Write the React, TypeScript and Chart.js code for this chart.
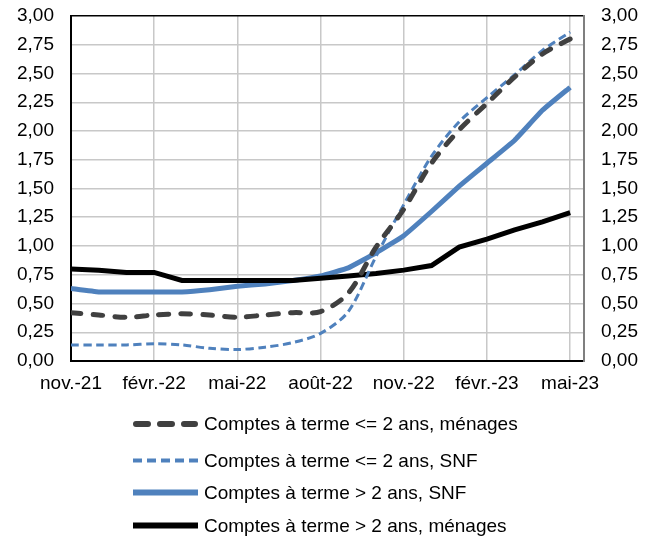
import React, { useEffect, useRef } from 'react';
import { Chart, registerables } from 'chart.js';
Chart.register(...registerables);

const months = ['nov.-21', 'déc.-21', 'janv.-22', 'févr.-22', 'mars-22', 'avr.-22', 'mai-22', 'juin-22', 'juil.-22', 'août-22', 'sept.-22', 'oct.-22', 'nov.-22', 'déc.-22', 'janv.-23', 'févr.-23', 'mars-23', 'avr.-23', 'mai-23'];

const menagesCourt = [0.42, 0.40, 0.38, 0.40, 0.41, 0.40, 0.38, 0.40, 0.42, 0.43, 0.59, 0.99, 1.32, 1.72, 2.01, 2.24, 2.47, 2.67, 2.80];
const snfCourt = [0.14, 0.14, 0.14, 0.15, 0.14, 0.11, 0.10, 0.12, 0.16, 0.24, 0.43, 0.91, 1.36, 1.78, 2.08, 2.29, 2.49, 2.70, 2.86];
const snfLong = [0.63, 0.60, 0.60, 0.60, 0.60, 0.62, 0.65, 0.67, 0.70, 0.74, 0.81, 0.94, 1.09, 1.30, 1.52, 1.72, 1.92, 2.18, 2.38];
const menagesLong = [0.80, 0.79, 0.77, 0.77, 0.70, 0.70, 0.70, 0.70, 0.70, 0.72, 0.74, 0.76, 0.79, 0.83, 0.99, 1.06, 1.14, 1.21, 1.29];

const seriesLabels = [
  'Comptes à terme <= 2 ans, ménages',
  'Comptes à terme <= 2 ans, SNF',
  'Comptes à terme > 2 ans, SNF',
  'Comptes à terme > 2 ans, ménages',
];

const FONT = '"Liberation Sans", Arial, sans-serif';
const FS = 19;
const BLUE = '#4F81BD';

const toPts = (arr: number[]) => arr.map((v, i) => ({ x: i, y: v }));

const legendPlugin = {
  id: 'customLegend',
  afterDraw(chart: any) {
    const ctx = chart.ctx;
    const rows = [424, 460.5, 492.5, 525.5];
    const legendDash = [[12, 12], [9, 5], [], []];
    const legendCap = ['round', 'butt', 'butt', 'butt'];
    chart.data.datasets.forEach((ds: any, i: number) => {
      const y = rows[i];
      ctx.save();
      ctx.strokeStyle = ds.borderColor;
      ctx.lineWidth = ds.borderWidth + 1;
      ctx.lineCap = legendCap[i];
      ctx.setLineDash(legendDash[i]);
      ctx.beginPath();
      const x0 = legendCap[i] === 'round' ? 136 : 133;
      const x1 = legendCap[i] === 'round' ? 195 : 198;
      ctx.moveTo(x0, y);
      ctx.lineTo(x1, y);
      ctx.stroke();
      ctx.setLineDash([]);
      ctx.fillStyle = '#000';
      ctx.font = `${FS}px ${FONT}`;
      ctx.textBaseline = 'middle';
      ctx.textAlign = 'left';
      ctx.fillText(ds.label, 204, y + 1);
      ctx.restore();
    });
  },
};

export default function App() {
  const ref = useRef<HTMLCanvasElement>(null);
  useEffect(() => {
    if (!ref.current) return;
    const tickFont = { family: FONT, size: FS };
    const chart = new Chart(ref.current, {
      type: 'line',
      data: {
        datasets: [
          {
            label: seriesLabels[0],
            data: toPts(menagesCourt),
            borderColor: '#404040',
            borderWidth: 5,
            borderDash: [10, 12],
            borderCapStyle: 'round',
            tension: 0.3,
            pointRadius: 0,
            order: 0,
          },
          {
            label: seriesLabels[1],
            data: toPts(snfCourt),
            borderColor: BLUE,
            borderWidth: 3,
            borderDash: [8, 4.5],
            tension: 0.3,
            pointRadius: 0,
            order: 1,
          },
          {
            label: seriesLabels[2],
            data: toPts(snfLong),
            borderColor: BLUE,
            borderWidth: 5,
            tension: 0.1,
            pointRadius: 0,
            order: 3,
          },
          {
            label: seriesLabels[3],
            data: toPts(menagesLong),
            borderColor: '#000000',
            borderWidth: 5,
            tension: 0,
            pointRadius: 0,
            order: 2,
          },
        ],
      },
      options: {
        animation: false,
        responsive: false,
        layout: { padding: { top: 16, bottom: 135, left: 0, right: 0 } },
        plugins: { legend: { display: false }, tooltip: { enabled: false } },
        scales: {
          x: {
            type: 'linear',
            min: 0,
            max: 18.5,
            afterBuildTicks: (scale: any) => {
              scale.ticks = months
                .map((_, i) => i)
                .filter((i) => i % 3 === 0)
                .map((v) => ({ value: v }));
            },
            afterFit: (scale: any) => {
              scale.height = 45;
              scale.paddingLeft = 0;
              scale.paddingRight = 0;
            },
            ticks: {
              callback: (v: any) => months[Number(v)] ?? '',
              color: '#000',
              font: tickFont,
              padding: 11,
              maxRotation: 0,
              autoSkip: false,
            },
            grid: { color: '#c8c8c8', lineWidth: 1.5, drawTicks: false },
            border: { color: '#000', width: 2 },
          },
          y: {
            position: 'left',
            min: 0,
            max: 3,
            ticks: {
              stepSize: 0.25,
              callback: (v: any) => Number(v).toFixed(2).replace('.', ','),
              color: '#000',
              font: tickFont,
              padding: 17,
            },
            afterFit: (scale: any) => {
              scale.width = 71;
              scale.paddingTop = 0;
              scale.paddingBottom = 0;
            },
            grid: {
              color: (c: any) => (c.tick && c.tick.value === 3 ? '#000' : '#c8c8c8'),
              lineWidth: 1.5,
              drawTicks: false,
            },
            border: { color: '#000', width: 2 },
          },
          y2: {
            position: 'right',
            min: 0,
            max: 3,
            ticks: {
              stepSize: 0.25,
              callback: (v: any) => Number(v).toFixed(2).replace('.', ','),
              color: '#000',
              font: tickFont,
              padding: 17,
            },
            afterFit: (scale: any) => {
              scale.width = 69;
              scale.paddingTop = 0;
              scale.paddingBottom = 0;
            },
            grid: { display: false, drawTicks: false },
            border: { color: '#7f7f7f', width: 2 },
          },
        },
      } as any,
      plugins: [legendPlugin],
    });
    return () => chart.destroy();
  }, []);
  return (
    <div style={{ position: 'absolute', left: 0, top: 0, width: 653, height: 541, background: '#fff' }}>
      <canvas ref={ref} width={653} height={541} style={{ display: 'block' }} />
    </div>
  );
}
